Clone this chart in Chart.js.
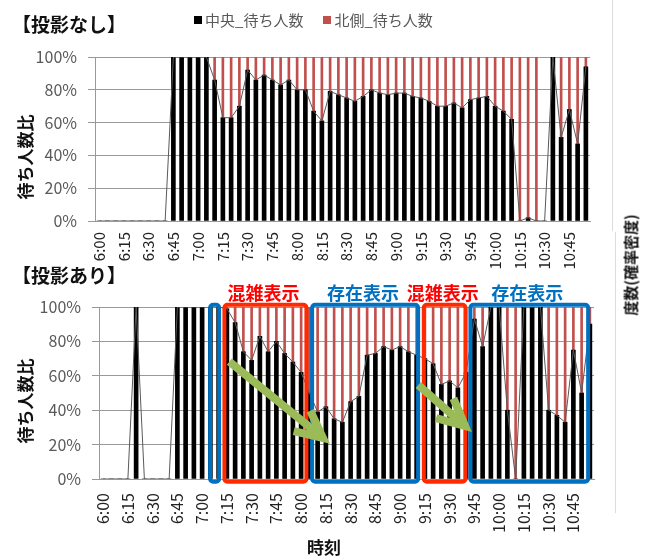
<!DOCTYPE html>
<html>
<head>
<meta charset="utf-8">
<script src="https://cdn.jsdelivr.net/npm/chart.js@4.4.1/dist/chart.umd.min.js"></script>
<style>
  body { margin: 0; background: #fff; font-family: "Noto Sans CJK JP", sans-serif; }
  #wrap { position: relative; width: 646px; height: 557px; overflow: hidden; }
  canvas { position: absolute; left: 0; }
  .t { position: absolute; white-space: nowrap; line-height: 1; color: #111; }
  .c { transform: translate(-50%, -50%); }
  .v { transform: translate(-50%, -50%) rotate(-90deg); }
  .panel { font-size: 19px; font-weight: bold; }
  .axis { font-size: 17px; font-weight: bold; }
  .legend { display: flex; align-items: center; font-size: 15px; color: #595959; }
  .legend i { display: inline-block; width: 8px; height: 8px; margin-right: 3px; }
  .edge { position: absolute; width: 1px; background: #dcdcdc; }
</style>
</head>
<body>
<div id="wrap">
  <canvas id="topChart" width="646" height="290" style="top:0"></canvas>
  <canvas id="bottomChart" width="646" height="295" style="top:262px"></canvas>

  <div class="edge" style="left:612px;top:0;height:231px"></div>
  <div class="edge" style="left:615px;top:232px;height:281px"></div>

  <div class="t panel c" style="left:69px;top:23px">【投影なし】</div>
  <div class="t panel c" style="left:69px;top:274px">【投影あり】</div>
  <div class="t legend" style="left:194px;top:12px">
    <i style="background:#000"></i><span>中央_待ち人数</span>
    <i style="background:#C0504D;margin-left:20px"></i><span>北側_待ち人数</span>
  </div>
  <div class="t axis v" style="left:24px;top:157px">待ち人数比</div>
  <div class="t axis v" style="left:24px;top:401px">待ち人数比</div>
  <div class="t axis c" style="left:324px;top:546px">時刻</div>
  <div class="t v" style="left:630px;top:265px;font-size:15px;font-weight:bold">度数(確率密度)</div>
</div>

<script>
// 5分刻みの時刻
const times = [
  '6:00','6:05','6:10','6:15','6:20','6:25','6:30','6:35','6:40','6:45','6:50','6:55',
  '7:00','7:05','7:10','7:15','7:20','7:25','7:30','7:35','7:40','7:45','7:50','7:55',
  '8:00','8:05','8:10','8:15','8:20','8:25','8:30','8:35','8:40','8:45','8:50','8:55',
  '9:00','9:05','9:10','9:15','9:20','9:25','9:30','9:35','9:40','9:45','9:50','9:55',
  '10:00','10:05','10:10','10:15','10:20','10:25','10:30','10:35','10:40','10:45','10:50','10:55'
];
const tickLabels = [
  '6:00','6:15','6:30','6:45','7:00','7:15','7:30','7:45','8:00','8:15',
  '8:30','8:45','9:00','9:15','9:30','9:45','10:00','10:15','10:30','10:45'
];
const yTicks = [0, 20, 40, 60, 80, 100];

// 投影なし (%)
const centerNoProj = [
  0, 0, 0, 0, 0, 0, 0, 0, 0, 100, 100, 100, 100, 100,
  86, 63, 63, 70, 92, 86, 89, 86, 83, 86,
  80, 80, 67, 61, 79, 77, 75, 73, 76, 80,
  78, 77, 78, 78, 76, 75, 73, 70, 70, 72,
  69, 74, 75, 76, 70, 67, 62, 0, 2, 0,
  0, 100, 51, 68, 47, 94
];
const northNoProj = [
  null, null, null, null, null, null, null, null, null, null, null, null, null, null,
  14, 37, 37, 30, 8, 14, 11, 14, 17, 14,
  20, 20, 33, 39, 21, 23, 25, 27, 24, 20,
  22, 23, 22, 22, 24, 25, 27, 30, 30, 28,
  31, 26, 25, 24, 30, 33, 38, 100, 98, 100,
  null, 0, 49, 32, 53, 6
];

// 投影あり (%)
const centerProj = [
  0, 0, 0, 0, 100, 0, 0, 0, 0, 100, 100, 100, 100, 100, 100,
  99, 91, 74, 69, 83, 74, 80, 73, 68, 62,
  50, 39, 42, 35, 33, 45, 48, 72, 73, 77,
  75, 77, 74, 72, 70, 67, 55, 57, 53, 62,
  93, 77, 100, 100, 40, 0, 100, 100, 100, 40,
  37, 33, 75, 50, 90
];
const northProj = [
  null, null, null, null, null, null, null, null, null, null, null, null, null, null, null,
  1, 9, 26, 31, 17, 26, 20, 27, 32, 38,
  50, 61, 58, 65, 67, 55, 52, 28, 27, 23,
  25, 23, 26, 28, 30, 33, 45, 43, 47, 38,
  7, 23, 0, 0, 60, 100, 0, 0, 0, 60,
  63, 67, 25, 50, 10
];

// 投影ありの注記（カテゴリ位置と%で指定）
const zones = [
  { from: 12.97, to: 14.06, kind: 'exist', label: false },
  { from: 14.70, to: 24.64, kind: 'busy', label: true },
  { from: 25.33, to: 38.18, kind: 'exist', label: true },
  { from: 38.87, to: 43.92, kind: 'busy', label: true },
  { from: 44.52, to: 58.79, kind: 'exist', label: true }
];
const zoneText = { busy: '混雑表示', exist: '存在表示' };
const zoneLine = { busy: '#FF2A00', exist: '#0070C0' };
const zoneFont = { busy: '#FF0000', exist: '#0070C0' };
const arrows = [
  { x0: 15.3, y0: 68.2, x1: 27.5, y1: 20.5 },
  { x0: 38.2, y0: 54.6, x1: 44.7, y1: 27.3 }
];

Chart.defaults.font.family = '"Noto Sans CJK JP", sans-serif';

function drawArrow(ctx, x0, y0, x1, y1) {
  const a = Math.atan2(y1 - y0, x1 - x0);
  const w = 8, head = 30, spread = 26 * Math.PI / 180;
  const back = (w / 2) / Math.sin(spread);
  const tx = x1 - Math.cos(a) * back, ty = y1 - Math.sin(a) * back;
  ctx.strokeStyle = '#9BBB59';
  ctx.lineWidth = w;
  ctx.lineCap = 'butt';
  ctx.lineJoin = 'miter';
  ctx.beginPath();
  ctx.moveTo(x0, y0);
  ctx.lineTo(tx - Math.cos(a) * 4, ty - Math.sin(a) * 4);
  ctx.stroke();
  ctx.beginPath();
  ctx.moveTo(tx - head * Math.cos(a - spread), ty - head * Math.sin(a - spread));
  ctx.lineTo(tx, ty);
  ctx.lineTo(tx - head * Math.cos(a + spread), ty - head * Math.sin(a + spread));
  ctx.stroke();
}

const marksPlugin = {
  id: 'marks',
  afterDatasetsDraw(chart) {
    const { ctx, scales: { x, y } } = chart;
    const p0 = x.getPixelForValue(0);
    const step = x.getPixelForValue(1) - p0;
    const px = i => p0 + step * i;
    const top = y.getPixelForValue(101.3), bottom = y.getPixelForValue(-1.6);
    ctx.save();
    zones.forEach(z => {
      const l = px(z.from), r = px(z.to);
      ctx.strokeStyle = zoneLine[z.kind];
      ctx.lineWidth = 4;
      ctx.beginPath();
      ctx.roundRect(l, top, r - l, bottom - top, 3);
      ctx.stroke();
      if (z.label) {
        ctx.fillStyle = zoneFont[z.kind];
        ctx.font = 'bold 18px "Noto Sans CJK JP", sans-serif';
        ctx.textAlign = 'center';
        ctx.textBaseline = 'middle';
        ctx.fillText(zoneText[z.kind], (l + r) / 2 - 2, top - 12);
      }
    });
    arrows.forEach(a => drawArrow(ctx, px(a.x0), y.getPixelForValue(a.y0), px(a.x1), y.getPixelForValue(a.y1)));
    ctx.restore();
  }
};

function makeChart(id, center, north, box, xFont, xPad, plugins) {
  return new Chart(document.getElementById(id), {
    data: {
      labels: times,
      datasets: [
        {
          type: 'line', label: '中央', data: center, stack: 'line', order: 0,
          borderColor: '#595959', borderWidth: 1, pointRadius: 0, tension: 0
        },
        {
          type: 'bar', label: '中央_待ち人数', data: center, order: 1,
          backgroundColor: '#000', barThickness: 4
        },
        {
          type: 'bar', label: '北側_待ち人数', data: north, order: 2,
          backgroundColor: '#C0504D', barThickness: 2
        }
      ]
    },
    options: {
      responsive: false,
      animation: false,
      events: [],
      layout: { padding: { left: 0, right: box.right, top: box.top, bottom: 0 } },
      plugins: { legend: { display: false }, tooltip: { enabled: false } },
      scales: {
        x: {
          stacked: true,
          grid: { display: false, drawTicks: false },
          border: { display: true, color: '#999' },
          ticks: {
            autoSkip: false, minRotation: 90, maxRotation: 90, padding: xPad,
            color: '#222', font: { size: xFont },
            callback: function (v) {
              const t = this.getLabelForValue(v);
              return tickLabels.includes(t) ? t : null;
            }
          },
          afterFit: s => { s.height = box.xh; }
        },
        y: {
          stacked: true, min: 0, max: 100,
          afterBuildTicks: s => { s.ticks = yTicks.map(v => ({ value: v })); },
          grid: { color: '#999', drawTicks: true, tickLength: 7 },
          border: { display: true, color: '#999' },
          ticks: { padding: 11, color: '#595959', font: { size: 16 }, callback: v => v + '%' },
          afterFit: s => { s.width = box.left; }
        }
      }
    },
    plugins: plugins
  });
}

makeChart('topChart', centerNoProj, northNoProj, { left: 95, right: 56, top: 57, xh: 69 }, 15, 11, []);
makeChart('bottomChart', centerProj, northProj, { left: 99, right: 52, top: 45, xh: 78 }, 16, 14, [marksPlugin]);
</script>
</body>
</html>
